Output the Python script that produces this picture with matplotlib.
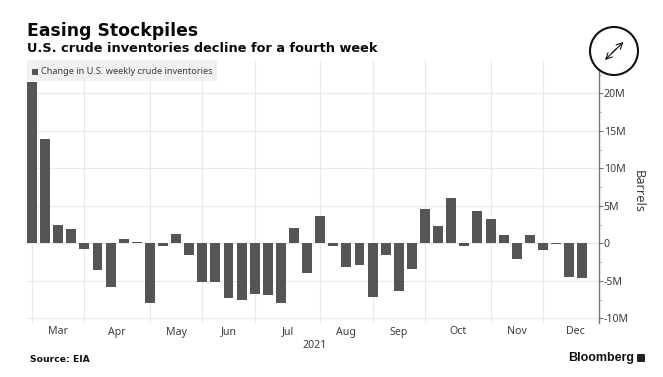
import matplotlib
matplotlib.use("Agg")
import matplotlib.pyplot as plt
from matplotlib.patches import Circle, Rectangle, FancyArrowPatch, FancyBboxPatch
from matplotlib.ticker import FixedLocator, NullFormatter

plt.rcParams['font.family'] = ['DejaVu Sans']

changes_m = [21.5, 13.9, 2.45, 1.95, -0.8, -3.5, -5.8, 0.6, 0.15, -8.0, -0.4, 1.3, -1.6,
             -5.1, -5.2, -7.35, -7.6, -6.7, -6.85, -7.9, 2.1, -4.0, 3.65, -0.3, -3.2,
             -2.95, -7.1, -1.5, -6.35, -3.4, 4.6, 2.35, 6.1, -0.4, 4.25, 3.3, 1.05,
             -2.05, 1.05, -0.9, -0.15, -4.5, -4.65]
month_labels = ['Mar', 'Apr', 'May', 'Jun', 'Jul', 'Aug', 'Sep', 'Oct', 'Nov', 'Dec']
month_start_week = [0, 4, 9, 13, 17, 22, 26, 30, 35, 39, 44]
y_ticks = [20, 15, 10, 5, 0, -5, -10]
y_labels = ['20M', '15M', '10M', '5M', '0', '-5M', '-10M']
y_minor = [22.5, 17.5, 12.5, 7.5, 2.5, -2.5, -7.5]

W, H = 663, 377
BAR = '#555555'
GRID = '#e9e9e9'
TXT = '#3c3c3c'
fig = plt.figure(figsize=(W / 100, H / 100), dpi=100, facecolor='white')


def fx(px):
    return px / W


def fy(py):
    return 1 - py / H


ax = fig.add_axes([fx(27), fy(323), fx(599 - 27), (323 - 60) / H])
ax.set_xlim(-0.38, 43.28)
ax.set_ylim(-10.63, 24.44)
ax.bar(range(len(changes_m)), changes_m, width=0.76, color=BAR, zorder=3, linewidth=0)

for s in ('top', 'left', 'bottom'):
    ax.spines[s].set_visible(False)
ax.spines['right'].set_color('#777777')
ax.spines['right'].set_linewidth(1.0)

ax.yaxis.tick_right()
ax.set_yticks(y_ticks)
ax.set_yticklabels(y_labels, fontsize=7.6, color=TXT, family='Noto Sans')
ax.yaxis.set_minor_locator(FixedLocator(y_minor))
ax.yaxis.set_minor_formatter(NullFormatter())
ax.tick_params(axis='y', which='major', length=2.6, width=0.8, color='#777777', pad=0.8)
ax.tick_params(axis='y', which='minor', length=1.6, width=0.6, color='#999999')
ax.grid(axis='y', color=GRID, linewidth=0.8, zorder=0)

visible_starts = [w for w in month_start_week if w <= 43]
ax.set_xticks(visible_starts)
ax.set_xticklabels([])
ax.tick_params(axis='x', length=0)
ax.grid(axis='x', color=GRID, linewidth=0.8, zorder=0)

for lab, a, b in zip(month_labels, month_start_week[:-1], month_start_week[1:]):
    ax.annotate(lab, xy=((a + b) / 2, 0), xycoords=('data', 'axes fraction'),
                xytext=(0, -9), textcoords='offset pixels', ha='center', va='center',
                fontsize=7.6, color=TXT, family='Noto Sans', annotation_clip=False)

fig.text(fx(315), fy(345), '2021', ha='center', va='center', fontsize=7.6, color=TXT, family='Noto Sans')
fig.text(fx(638), fy(192), 'Barrels', rotation=270, ha='center', va='center', fontsize=9.2,
         color=TXT, family='Noto Sans')

# legend chip
fig.add_artist(Rectangle((fx(27), fy(81)), fx(190), 21 / H, transform=fig.transFigure,
                         facecolor='#f1f1f1', edgecolor='none', zorder=4))
fig.add_artist(Rectangle((fx(32), fy(74.5)), fx(6), 6 / H, transform=fig.transFigure,
                         facecolor=BAR, edgecolor='none', zorder=5))
fig.text(fx(41), fy(71), 'Change in U.S. weekly crude inventories', ha='left', va='center',
         fontsize=6.6, color=TXT, family='Noto Sans', zorder=6)

# titles
fig.text(fx(27), fy(31), 'Easing Stockpiles', ha='left', va='center', fontsize=12.4,
         fontweight='bold', color='#0a0a0a')
fig.text(fx(27), fy(49), 'U.S. crude inventories decline for a fourth week', ha='left',
         va='center', fontsize=9.3, fontweight='bold', color='#0a0a0a')
fig.text(fx(30), fy(359), 'Source: EIA', ha='left', va='center', fontsize=6.7, fontweight='bold',
         color='#111111')
fig.text(fx(568), fy(358), 'Bloomberg', ha='left', va='center', fontsize=9, fontweight='bold',
         color='#111111', family='Liberation Sans')

# logo chip
fig.add_artist(FancyBboxPatch((fx(637), fy(362)), fx(8), 8 / H, transform=fig.transFigure,
                              boxstyle='round,pad=0,rounding_size=0.002', facecolor='#222222',
                              edgecolor='none', zorder=5))

# expand icon
icon = fig.add_axes([0, 0, 1, 1], facecolor='none', zorder=10)
icon.set_xlim(0, W)
icon.set_ylim(H, 0)
icon.axis('off')
icon.add_patch(Circle((614, 51), 24, facecolor='white', edgecolor='#111111', linewidth=1.5))
icon.add_patch(FancyArrowPatch((612, 53), (623.5, 42), arrowstyle='->', mutation_scale=11,
                               color='#111111', linewidth=0.8, shrinkA=0, shrinkB=0))
icon.add_patch(FancyArrowPatch((616, 49), (605, 60), arrowstyle='->', mutation_scale=11,
                               color='#111111', linewidth=0.8, shrinkA=0, shrinkB=0))

fig.savefig('out.png', dpi=100, facecolor='white')
